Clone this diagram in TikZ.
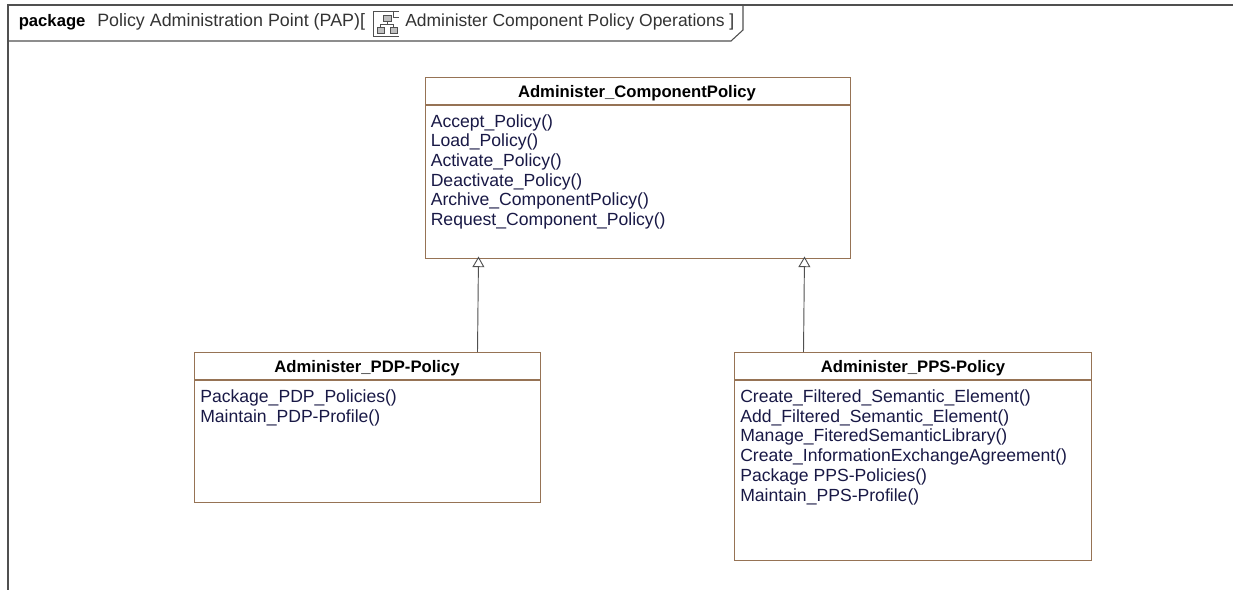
\documentclass[tikz,border=0pt]{standalone}
\usepackage{fontspec}
\setmainfont{Liberation Sans}
\usetikzlibrary{arrows.meta}
\definecolor{boxbrown}{RGB}{150,115,85}
\definecolor{opink}{RGB}{25,25,70}
\definecolor{framegray}{RGB}{80,80,80}
\tikzset{
  classbox/.style={draw=boxbrown,line width=0.9pt,anchor=north west,inner sep=0pt,fill=white},
  classname/.style={font=\fontsize{12.5}{14}\selectfont\bfseries,text=black,inner sep=0pt,anchor=center},
  oplist/.style={font=\fontsize{13.2}{14.8}\selectfont,text=opink,inner sep=0pt,anchor=north west,align=left},
  framerule/.style={draw=framegray,line width=0.8pt},
  general/.style={draw=framegray,line width=0.7pt,-{Triangle[open,fill=white,length=8pt,width=9pt]}},
}
\begin{document}
\begin{tikzpicture}[x=0.75pt,y=-0.75pt]
\useasboundingbox (0,0) rectangle (1233,590);
% frame
\draw[framerule] (1233,5) -- (8,5) -- (8,590);
\draw[framerule] (8,41) -- (731,41) -- (743,30) -- (743,5);
\node[anchor=base west,inner sep=0pt,font=\fontsize{12.5}{14}\selectfont\bfseries] (kw) at (18.5,26.5) {package};
\node[anchor=base west,inner sep=0pt,font=\fontsize{13.4}{14}\selectfont,text=black!80] (ttl) at (97,26.5) {Policy Administration Point (PAP)[};
\node[anchor=base west,inner sep=0pt,font=\fontsize{13.1}{14}\selectfont,text=black!80] (ttl2) at (405,26.5) {Administer Component Policy Operations ]};
% diagram icon
\draw[framegray,line width=0.6pt] (399,11) -- (373.5,11) -- (373.5,36) -- (399,36);
\draw[framegray,line width=0.5pt,fill=black!25] (383,15) rectangle (391,21);
\draw[framegray,line width=0.5pt,fill=black!25] (377,27) rectangle (384,33);
\draw[framegray,line width=0.5pt,fill=black!25] (390,27) rectangle (397,33);
\draw[framegray,line width=0.5pt] (387,21) -- (387,24) (380.5,27) -- (380.5,24) -- (393.5,24) -- (393.5,27);
\draw[framegray,line width=0.5pt] (393,11) -- (393,17) -- (399,17);
% classes
\node[classbox,minimum width=318.75pt,minimum height=135.75pt] (a) at (425,77) {};
\draw[boxbrown,line width=0.9pt] (425,105) -- (850,105);
\node[classname] (an) at (637,93) {Administer\_ComponentPolicy};
\node[oplist] (ao) at (430.5,114) {Accept\_Policy()\\Load\_Policy()\\Activate\_Policy()\\Deactivate\_Policy()\\Archive\_ComponentPolicy()\\Request\_Component\_Policy()};
\node[classbox,minimum width=259.5pt,minimum height=112.5pt] (b) at (194,352) {};
\draw[boxbrown,line width=0.9pt] (194,380) -- (540,380);
\node[classname] (bn) at (367,368) {Administer\_PDP-Policy};
\node[oplist] (bo) at (200,389.5) {Package\_PDP\_Policies()\\Maintain\_PDP-Profile()};
\node[classbox,minimum width=267.75pt,minimum height=156pt] (c) at (734,352) {};
\draw[boxbrown,line width=0.9pt] (734,380) -- (1091,380);
\node[classname] (cn) at (913,368) {Administer\_PPS-Policy};
\node[oplist] (co) at (740,389.5) {Create\_Filtered\_Semantic\_Element()\\Add\_Filtered\_Semantic\_Element()\\Manage\_FiteredSemanticLibrary()\\Create\_InformationExchangeAgreement()\\Package PPS-Policies()\\Maintain\_PPS-Profile()};
% generalisations
\coordinate (ta) at (478.5,256.5);
\coordinate (tb) at (804.5,256.5);
\coordinate (fb) at (477.5,352);
\coordinate (fc) at (803.5,352);
\draw[general] (fb) -- (ta);
\draw[general] (fc) -- (tb);
\end{tikzpicture}
\end{document}
